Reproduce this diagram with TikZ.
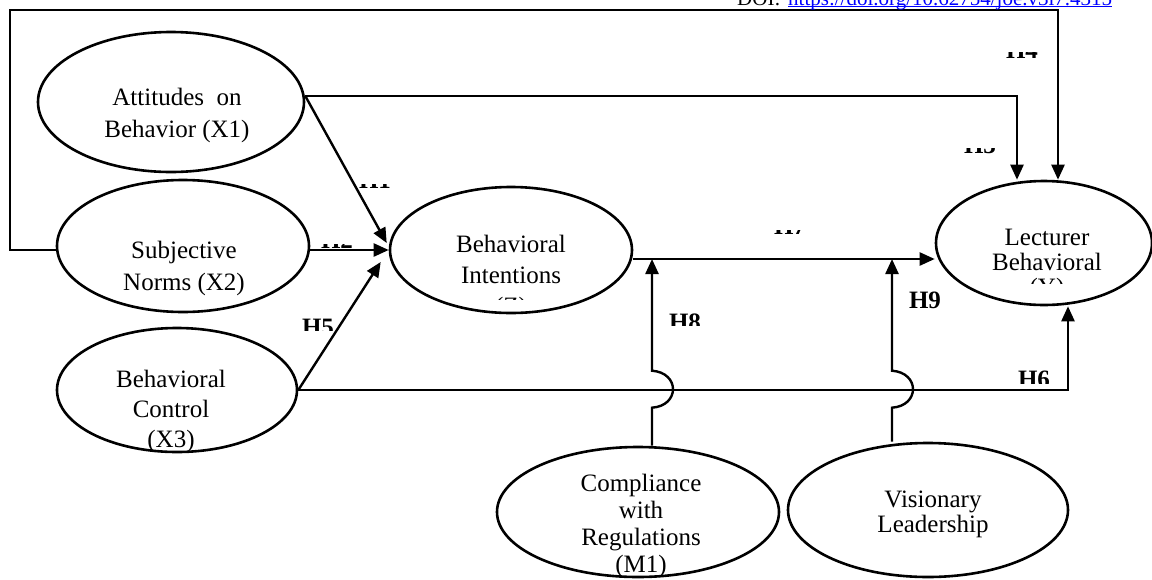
\documentclass[tikz,border=0pt]{standalone}
\usepackage{fontspec}
\setmainfont{Liberation Serif}
\usetikzlibrary{positioning,arrows.meta,shapes.geometric}

\tikzset{
    latent/.style={ellipse, draw, line width=2.6pt, inner sep=0pt},
    effect/.style={line width=2.4pt, -{Triangle[length=15pt,width=13pt]}},
    txt/.style={align=center, inner sep=0pt, font=\fontsize{25}{#1}\selectfont},
    hyp/.style={inner sep=0pt, font=\bfseries\fontsize{25}{28}\selectfont},
}

\begin{document}
\begin{tikzpicture}[x=1pt, y=-1pt]
    \useasboundingbox (0,0) rectangle (1152,579);

    % latent variables
    \node[latent, minimum width=266pt, minimum height=140pt] (x1) at (171,102) {};
    \node[latent, minimum width=252pt, minimum height=132pt] (x2) at (183,246) {};
    \node[latent, minimum width=240pt, minimum height=124pt] (x3) at (177,390) {};
    \node[latent, minimum width=242pt, minimum height=126pt] (z) at (511,250) {};
    \node[latent, minimum width=216pt, minimum height=124pt] (y) at (1044,243) {};
    \node[latent, minimum width=282pt, minimum height=130pt] (m1) at (638,512) {};
    \node[latent, minimum width=280pt, minimum height=134pt] (vl) at (928,510) {};

    % texts (base = last line)
    \node[txt=32, anchor=base] (tx1) at (177,137) {Attitudes~ on\\Behavior (X1)};
    \node[txt=32, anchor=base] (tx2) at (184,290) {Subjective\\Norms (X2)};
    \node[txt=30, anchor=base] (tx3) at (171,447) {Behavioral\\Control\\(X3)};
    \node[txt=27, anchor=base] (tm1) at (641,572) {Compliance\\with\\Regulations\\(M1)};
    \node[txt=25, anchor=base] (tvl) at (933,532) {Visionary\\Leadership};
    \begin{scope}
        \clip (390,180) rectangle (632,299);
        \node[txt=31, anchor=base] (tz) at (511,314) {Behavioral\\Intentions\\(Z)};
    \end{scope}
    \begin{scope}
        \clip (936,180) rectangle (1152,283);
        \node[txt=25, anchor=base] (ty) at (1047,295) {Lecturer\\Behavioral\\(Y)};
    \end{scope}

    % paths
    \coordinate (corner) at (10,10);
    \coordinate (m1tip) at (652,259);
    \coordinate (vltip) at (892,259);
    \draw[effect] ([yshift=-4pt]x2.west) -| (corner) -| ([xshift=14pt]y.north);
    \draw[effect] ([yshift=6pt]x1.east) -| ([xshift=-27pt]y.north);
    \draw[effect] ([yshift=6pt]x1.east) -- ([shift={(-2,-7)}]z.west);
    \draw[effect] (x2.east |- z.west) -- (z.west);
    \draw[effect] (x3.east) -- ([shift={(-8,12)}]z.west);
    \draw[effect] (x3.east) -| ([xshift=24pt]y.south);
    \draw[effect] ([yshift=-9pt]z.east) -- ([yshift=-9pt]z.east -| y.west);
    \draw[effect] ([xshift=14pt]m1.north) -- ++(0,-38)
        .. controls +(28,-2) and +(28,2) .. ++(0,-37) -- (m1tip);
    \draw[effect] ([xshift=-36pt]vl.north) -- ++(0,-34)
        .. controls +(28,-2) and +(28,2) .. ++(0,-37) -- (vltip);

    % hypothesis labels (partly hidden)
    \foreach \nm/\x/\y/\top/\bot in {H1/375/188/184/195, H2/337/248/244/255,
        H3/980/153/148/160, H4/1022/58/52/65, H7/790/234/230/240,
        H5/318/335/315/330, H8/685/330/310/325, H6/1034/387/367/383,
        H9/925/308/285/315} {
        \begin{scope}
            \clip (\x-30,\top) rectangle (\x+30,\bot);
            \node[hyp, anchor=base] (\nm) at (\x,\y) {\nm};
        \end{scope}
    }

    % doi line at the top
    \node[inner sep=0pt, anchor=base west, font=\fontsize{21}{24}\selectfont] (doi) at (737,5) {DOI:};
    \node[inner sep=0pt, anchor=base west, text=blue, font=\fontsize{21}{24}\selectfont] (url) at (788,5) {https://doi.org/10.62754/joe.v3i7.4315};
    \draw[blue, line width=1.4pt] ([yshift=-1.5pt]url.base west) -- ([yshift=-1.5pt]url.base east);
\end{tikzpicture}
\end{document}
